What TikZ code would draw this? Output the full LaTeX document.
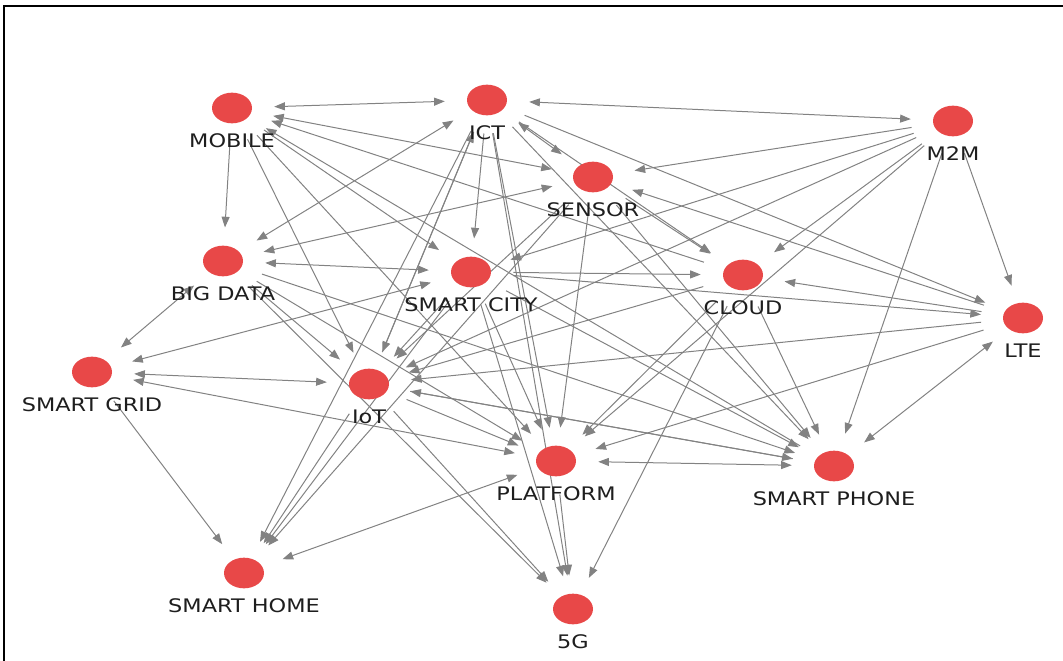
\documentclass[tikz,border=0pt]{standalone}
\usepackage{fontspec}
\setmainfont{DejaVu Sans}[FakeStretch=1.2]
\usetikzlibrary{arrows.meta,shapes.geometric}
\definecolor{dotred}{RGB}{232,72,72}
\definecolor{edgegray}{RGB}{130,130,130}
\definecolor{txt}{RGB}{30,30,30}
\newcommand\gnode[4]{\node[halo] (#1) at (#2,#3) {};}
\newcommand\gdot[4]{\node[dot] (#1-d) at (#2,#3) {}; \node[lbl] (#1-l) at (#2,#3+33) {#4};}
\begin{document}
\begin{tikzpicture}[x=0.75pt,y=-0.75pt,
 halo/.style={ellipse, minimum width=63pt, minimum height=50pt, inner sep=0pt},
 dot/.style={ellipse, fill=dotred, minimum width=30pt, minimum height=23pt, inner sep=0pt},
 lbl/.style={font=\fontsize{14}{16}\selectfont, text=txt, inner sep=0pt},
 arr/.style={draw=edgegray, line width=0.75pt, -{Triangle[length=8pt,width=6pt]}},
 arrb/.style={draw=edgegray, line width=0.75pt, {Triangle[length=8pt,width=6pt]}-{Triangle[length=8pt,width=6pt]}}]
\useasboundingbox (0,0) rectangle (1063,660);
\draw[line width=1.5pt] (4,670) -- (4,6) -- (1070,6);
\def\nodelist{mob/232/108/MOBILE, ict/487/100/ICT, m2m/953/121/M2M, sen/593/177/SENSOR, big/223/261/BIG DATA, city/471/272/SMART CITY, cld/743/275/CLOUD, lte/1023/318/LTE, grid/92/372/SMART GRID, iot/369/384/IoT, plat/556/461/PLATFORM, phone/834/466/SMART PHONE, home/244/573/SMART HOME, g5/573/609/5G}
\foreach \n/\x/\y/\t in \nodelist {\gnode{\n}{\x}{\y}{\t}}
\foreach \a/\b in {mob/big, cld/mob, phone/mob, mob/city, mob/iot, mob/plat,
  ict/cld, ict/city, ict/plat, ict/g5, ict/iot, ict/lte, ict/phone, ict/home,
  m2m/sen, m2m/city, m2m/cld, m2m/iot, m2m/plat, m2m/lte, m2m/phone,
  sen/cld, sen/plat, sen/phone, sen/iot, sen/home, lte/sen,
  big/iot, big/phone, big/plat, big/g5,
  city/cld, city/lte, city/plat, city/g5, city/home, city/iot, city/phone,
  cld/plat, cld/phone, cld/g5, cld/iot, lte/cld, lte/iot, lte/plat,
  grid/home, iot/home, iot/g5, iot/plat, iot/phone, iot/ict, plat/g5, phone/iot}
  {\draw[arr] (\a) -- (\b);}
\foreach \a/\b in {mob/ict, mob/sen, ict/m2m, ict/sen, big/ict, big/sen, big/city, big/grid,
  city/grid, lte/phone, grid/iot, grid/plat, plat/home, phone/plat}
  {\draw[arrb] (\a) -- (\b);}
\foreach \n/\x/\y/\t in \nodelist {\gdot{\n}{\x}{\y}{\t}}
\end{tikzpicture}
\end{document}
